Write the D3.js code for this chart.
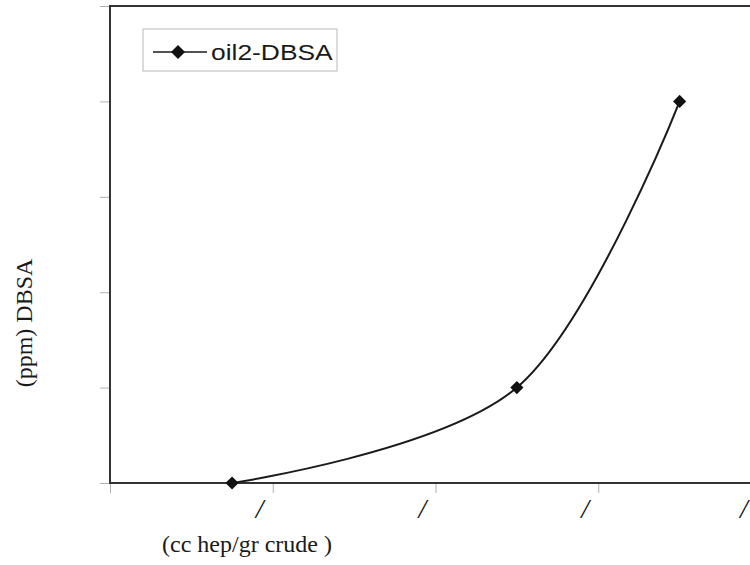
<!DOCTYPE html>
<html>
<head>
<meta charset="utf-8">
<script src="https://cdn.jsdelivr.net/npm/d3@7"></script>
<style>
  body { margin: 0; background: #fff; }
  svg { display: block; }
</style>
</head>
<body>
<svg id="chart" width="750" height="565"></svg>
<script>
// ---- data ----
const seriesName = "oil2-DBSA";
const xValues = [0.75, 2.5, 3.5];
const yValues = [0, 1, 4];
const xTickValues = [0, 1, 2, 3, 4];
const xTickLabels = ["", "/", "/", "/", "/"];
const yTickValues = [0, 1, 2, 3, 4, 5];
const xTitle = "(cc hep/gr crude )";
const yTitle = "(ppm) DBSA";

(function () {
// ---- layout ----
const svg = d3.select("#chart");
const pLeft = 110, pRight = 761, pTop = 6, pBottom = 483;

const x = d3.scaleLinear().domain([0, 4]).range([pLeft, pRight]);
const y = d3.scaleLinear().domain([0, 5]).range([pBottom, pTop]);

// y ticks (outside left)
const yAxis = svg.append("g")
  .attr("transform", `translate(${pLeft},0)`)
  .call(d3.axisLeft(y).tickValues(yTickValues).tickSize(10).tickFormat(""));
yAxis.select(".domain").remove();
yAxis.selectAll(".tick line").attr("stroke", "#b0b0b0").attr("stroke-width", 1);

// x ticks (outside bottom)
const xAxis = svg.append("g")
  .attr("transform", `translate(0,${pBottom})`)
  .call(d3.axisBottom(x).tickValues(xTickValues).tickSize(10).tickFormat(""));
xAxis.select(".domain").remove();
xAxis.selectAll(".tick line").attr("stroke", "#b0b0b0").attr("stroke-width", 1);

// x tick labels
svg.append("g").selectAll("text")
  .data(xTickValues)
  .join("text")
  .attr("x", d => Math.min(x(d) - 13, 744))
  .attr("y", 518)
  .attr("text-anchor", "middle")
  .attr("font-family", "Liberation Serif, Times New Roman, serif")
  .attr("font-style", "italic")
  .attr("font-size", 28)
  .attr("fill", "#111")
  .text((d, i) => xTickLabels[i]);

// plot frame
svg.append("rect")
  .attr("x", pLeft).attr("y", pTop)
  .attr("width", pRight - pLeft).attr("height", pBottom - pTop)
  .attr("fill", "none")
  .attr("stroke", "#333")
  .attr("stroke-width", 2);

// line
const pts = xValues.map((v, i) => [v, yValues[i]]);
const line = d3.line()
  .x(d => x(d[0])).y(d => y(d[1]))
  .curve(d3.curveCardinal.tension(0));
svg.append("path")
  .datum(pts)
  .attr("d", line)
  .attr("fill", "none")
  .attr("stroke", "#1a1a1a")
  .attr("stroke-width", 2);

// markers
const diamond = d3.symbol().type(d3.symbolDiamond2).size(110);
svg.append("g").selectAll("path")
  .data(pts)
  .join("path")
  .attr("d", diamond)
  .attr("transform", d => `translate(${x(d[0])},${y(d[1])})`)
  .attr("fill", "#111");

// legend
const lg = svg.append("g");
lg.append("rect")
  .attr("x", 143).attr("y", 29).attr("width", 194).attr("height", 42)
  .attr("fill", "#fff").attr("stroke", "#b8b8b8").attr("stroke-width", 1);
lg.append("line")
  .attr("x1", 153).attr("x2", 207).attr("y1", 52).attr("y2", 52)
  .attr("stroke", "#1a1a1a").attr("stroke-width", 1.6);
lg.append("path")
  .attr("d", d3.symbol().type(d3.symbolDiamond2).size(125))
  .attr("transform", "translate(178,52)")
  .attr("fill", "#111");
lg.append("text")
  .attr("transform", "translate(211,60) scale(1.2,1)")
  .attr("font-family", "Liberation Sans, Arial, sans-serif")
  .attr("font-size", 22)
  .attr("fill", "#1a1a1a")
  .text(seriesName);

// axis titles
svg.append("text")
  .attr("x", 247).attr("y", 552)
  .attr("text-anchor", "middle")
  .attr("font-family", "Liberation Serif, Times New Roman, serif")
  .attr("font-size", 24)
  .attr("fill", "#1a1a1a")
  .text(xTitle);

svg.append("text")
  .attr("transform", "translate(32,323) rotate(-90)")
  .attr("text-anchor", "middle")
  .attr("font-family", "Liberation Serif, Times New Roman, serif")
  .attr("font-size", 24)
  .attr("fill", "#1a1a1a")
  .text(yTitle);
})();
</script>
</body>
</html>
